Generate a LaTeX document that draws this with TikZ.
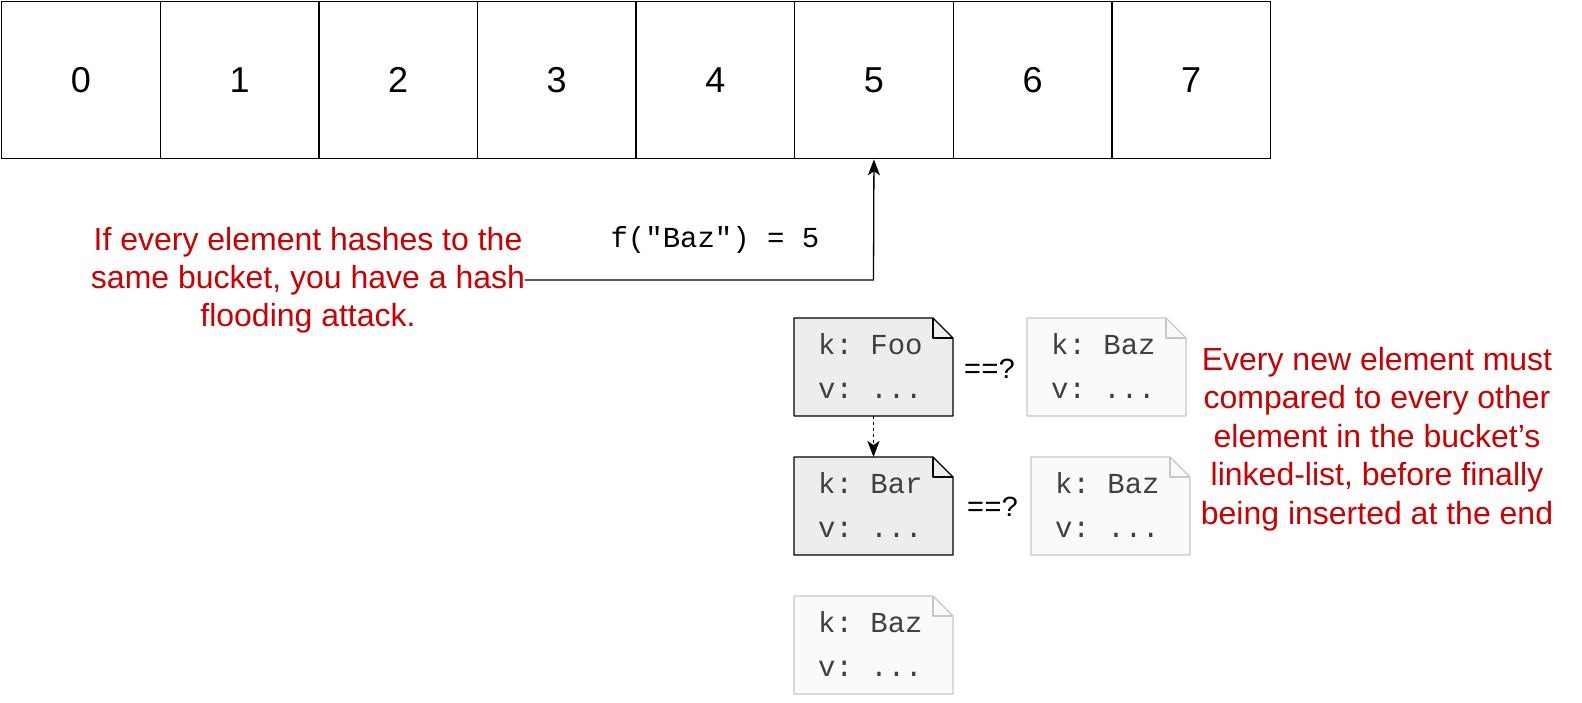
\documentclass[tikz,border=0pt]{standalone}
\usepackage{fontspec}
\setmainfont{Liberation Sans}
\setmonofont{Liberation Mono}
\usetikzlibrary{arrows.meta}
\definecolor{red1}{HTML}{CC0000}
\begin{document}
\begin{tikzpicture}[x=1pt,y=-1pt,
  cell/.style={draw,line width=1.3pt,minimum width=158.6pt,minimum height=157pt,inner sep=0,font=\fontsize{36}{36}\selectfont},
  note/.style={text=red1,align=center},
  mono/.style={font=\ttfamily\fontsize{29}{44}\selectfont},
  arr/.style={-{Stealth[length=16pt,width=12pt,inset=4pt]}},
]
\useasboundingbox (0,0) rectangle (1582,702);
\foreach \i in {0,...,7} {
  \node[cell,anchor=north west] (c\i) at ({1+158.6*\i},1) {\i};
}
\newcommand{\docbox}[4]{%
  \fill[#4] (#2,#3) -- ++(139,0) -- ++(20,20) -- ++(0,78) -- ++(-159,0) -- cycle;
  \draw[#1,line width=1.3pt,line join=round] (#2,#3) -- ++(139,0) -- ++(20,20) -- ++(0,78) -- ++(-159,0) -- cycle;
  \draw[#1,line width=1.3pt,line join=round] (#2+139,#3) -- ++(0,20) -- ++(20,0);
}
\docbox{black}{794}{318}{black!7}
\docbox{black}{794}{457}{black!7}
\docbox{black!22}{794}{596}{black!2}
\docbox{black!22}{1027}{318}{black!2}
\docbox{black!22}{1031}{457}{black!2}
\coordinate (foob) at (873.5,416);
\coordinate (bar) at (873.5,457);
\node[mono,anchor=north west,align=left,text=black!75,inner sep=0] (t1) at (818,333) {k: Foo\\v: ...};
\node[mono,anchor=north west,align=left,text=black!75,inner sep=0] (t2) at (818,472) {k: Bar\\v: ...};
\node[mono,anchor=north west,align=left,text=black!75,inner sep=0] (t3) at (818,611) {k: Baz\\v: ...};
\node[mono,anchor=north west,align=left,text=black!75,inner sep=0] (t4) at (1051,333) {k: Baz\\v: ...};
\node[mono,anchor=north west,align=left,text=black!75,inner sep=0] (t5) at (1055,472) {k: Baz\\v: ...};
\node[mono] (q1) at (990,369) {==?};
\node[mono] (q2) at (993,507) {==?};
\draw[line width=1pt,dashed,arr] (foob) -- (bar);
\node[note,font=\fontsize{32}{38}\selectfont] (left) at (308,280) {If every element hashes to the\\same bucket, you have a hash\\flooding attack.};
\node[mono] (f) at (715,240) {f("Baz") = 5};
\draw[line width=1.3pt,arr] (left.east) ++(-4,0) -- (873.5,280) -- (c5.south);
\node[note,font=\fontsize{32}{38.5}\selectfont] (right) at (1377,439) {Every new element must\\compared to every other\\element in the bucket's\\linked-list, before finally\\being inserted at the end};
\end{tikzpicture}
\end{document}
